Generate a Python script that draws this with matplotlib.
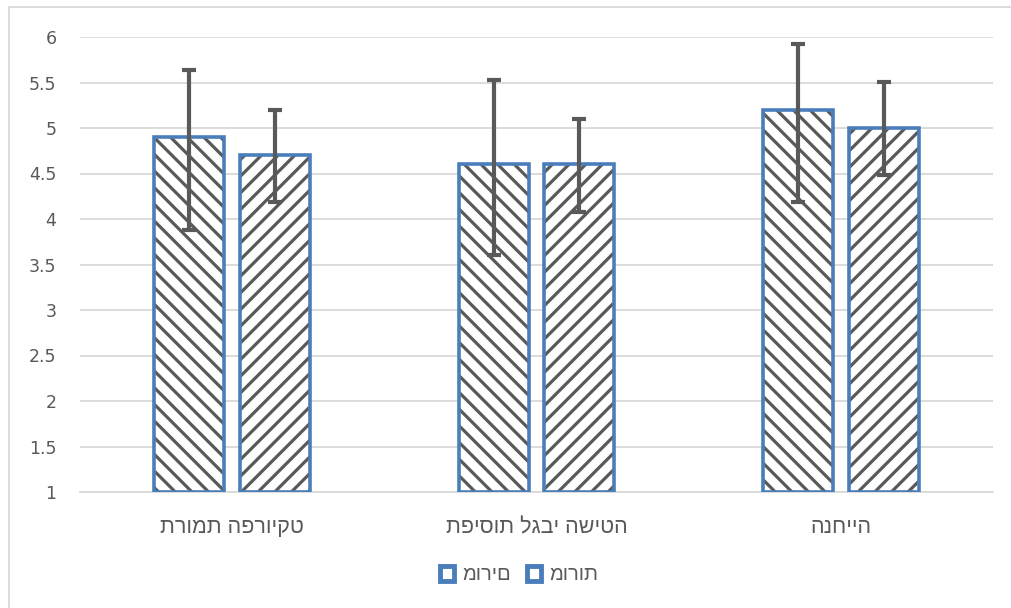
import matplotlib.pyplot as plt
import numpy as np
from matplotlib.patches import Patch
from matplotlib.lines import Line2D

plt.rcParams["font.family"] = ["DejaVu Sans"]
plt.rcParams["hatch.linewidth"] = 2.3

HEBREW_FONT = ["Liberation Sans", "DejaVu Sans"]

# data
categories = ["תרומת הפרויקט", "תפיסות לגבי השיטה", "הנחייה"]
series_names = ["מורים", "מורות"]
values_1 = [4.9, 4.6, 5.2]
err_low_1 = [1.02, 1.0, 1.01]
err_high_1 = [0.74, 0.93, 0.72]
values_2 = [4.7, 4.6, 5.0]
err_low_2 = [0.51, 0.52, 0.52]
err_high_2 = [0.5, 0.5, 0.51]

BLUE = "#4a7ebb"
HATCH_GREY = "#595959"
TEXT_GREY = "#595959"
GRID = "#d9d9d9"

fig = plt.figure(figsize=(10.11, 6.08), dpi=100)
ax = fig.add_axes([80 / 1011, 116 / 608, 913 / 1011, 455 / 608])

x = np.arange(len(categories))
width = 0.23
offset = 0.141

series = [
    (values_1, err_low_1, err_high_1, "\\\\", -offset),
    (values_2, err_low_2, err_high_2, "//", offset),
]
handles = []
for vals, lo, hi, hatch, off in series:
    heights = np.array(vals) - 1
    ax.bar(x + off, heights, width, bottom=1, color="white", edgecolor=HATCH_GREY,
           hatch=hatch, linewidth=0, zorder=2)
    ax.bar(x + off, heights, width, bottom=1, fill=False, edgecolor=BLUE,
           linewidth=2.6, zorder=3)
    ax.errorbar(x + off, vals, yerr=[lo, hi], fmt="none", ecolor="#595959",
                elinewidth=3, capsize=5, capthick=3, zorder=4)
    handles.append(Patch(facecolor="white", edgecolor=BLUE, linewidth=3.5))

ax.set_xlim(-0.5, 2.5)
ax.set_ylim(1, 6)
ax.set_yticks(np.arange(1, 6.01, 0.5))
ax.set_yticklabels(["{:g}".format(v) for v in np.arange(1, 6.01, 0.5)])
ax.set_xticks(x)
ax.set_xticklabels(categories, family=HEBREW_FONT, fontsize=15.5)
ax.tick_params(axis="y", length=0, pad=17, labelsize=12.5, labelcolor=TEXT_GREY)
ax.tick_params(axis="x", length=0, pad=18, labelcolor=TEXT_GREY)
ax.grid(axis="y", color=GRID, linewidth=1.3, zorder=0)
ax.set_axisbelow(True)
for s in ["top", "right", "left"]:
    ax.spines[s].set_visible(False)
ax.spines["bottom"].set_color(GRID)
ax.spines["bottom"].set_linewidth(1.3)

leg = fig.legend(handles, series_names,
                 loc="center", bbox_to_anchor=(519 / 1011, 1 - 575 / 608),
                 ncol=2, frameon=False, labelcolor=TEXT_GREY,
                 prop={"family": HEBREW_FONT, "size": 14.5},
                 handlelength=0.7, handleheight=0.7, handletextpad=0.4,
                 columnspacing=0.8)

# outer chart border
fig.add_artist(Line2D([9 / 1011, 9 / 1011], [0, 1 - 7 / 608], color=GRID,
                      linewidth=1.3, transform=fig.transFigure))
fig.add_artist(Line2D([9 / 1011, 1], [1 - 7 / 608, 1 - 7 / 608], color=GRID,
                      linewidth=1.3, transform=fig.transFigure))

fig.savefig("out.png", dpi=100)
